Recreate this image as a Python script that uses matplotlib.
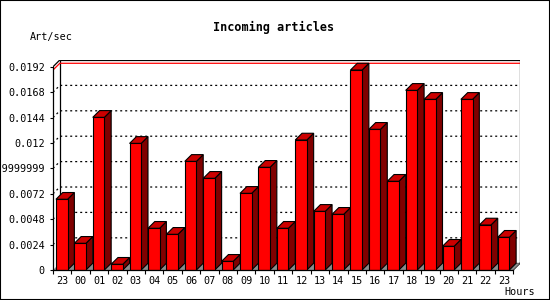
import numpy as np
import matplotlib
matplotlib.use("Agg")
import matplotlib.pyplot as plt
from matplotlib.patches import Polygon, Rectangle

plt.rcParams['font.family'] = ['DejaVu Sans Mono', 'DejaVu Sans']

# data
hours = ['23', '00', '01', '02', '03', '04', '05', '06', '07', '08', '09', '10', '11',
         '12', '13', '14', '15', '16', '17', '18', '19', '20', '21', '22', '23']
art_sec = [0.00668, 0.00252, 0.01442, 0.00054, 0.01196, 0.00394, 0.00337, 0.01026,
           0.00866, 0.00082, 0.00724, 0.00970, 0.00394, 0.01228, 0.00554, 0.00526,
           0.01889, 0.01329, 0.00838, 0.01697, 0.01612, 0.00224, 0.01612, 0.00425,
           0.00309]
y_ticks = [0, 0.0024, 0.0048, 0.0072, 0.0096, 0.012, 0.0144, 0.0168, 0.0192]
y_labels = ['0', '0.0024', '0.0048', '0.0072', '0.009599999999999999', '0.012',
            '0.0144', '0.0168', '0.0192']

# 3d depth (in data units) and bar placement inside a slot
dx = 0.37
dy = 0.00064
bar_off = 0.16
bar_w = 0.63

n = len(hours)
ymax = y_ticks[-1]

fig = plt.figure(figsize=(5.5, 3), dpi=100)
ax = fig.add_axes([53 / 550, 30 / 300, 467 / 550, 210 / 300])
ax.set_xlim(0, n + dx)
ax.set_ylim(0, ymax + dy)

# back wall
ax.add_patch(Rectangle((dx, dy), n, ymax, facecolor='white', edgecolor='black',
                       lw=0.9, zorder=1))
# left wall top edge + right floor edge
ax.plot([0, dx], [ymax, ymax + dy], color='black', lw=0.9, zorder=2)
ax.plot([n, n + dx], [0, dy], color='black', lw=0.9, zorder=2)

# grid lines (dotted, on the walls)
for v in y_ticks[1:-1]:
    ax.plot([0, dx, n + dx], [v, v + dy, v + dy], color='black', lw=0.9,
            linestyle=(0, (1.6, 2.4)), zorder=2)

# max line
m = max(art_sec)
ax.plot([0, dx, n + dx], [m, m + dy, m + dy], color='#ff0000', lw=0.9, zorder=2)

# floor
ax.add_patch(Polygon([(0, 0), (n, 0), (n + dx, dy), (dx, dy)], closed=True,
                     facecolor='#8c8c8c', edgecolor='none', zorder=2))

# bars
for i, v in enumerate(art_sec):
    x0 = i + bar_off
    x1 = x0 + bar_w
    ax.add_patch(Polygon([(x1, 0), (x1 + dx, dy), (x1 + dx, v + dy), (x1, v)],
                         closed=True, facecolor='#800000', edgecolor='black',
                         lw=0.8, zorder=3 + i))
    ax.add_patch(Polygon([(x0, v), (x0 + dx, v + dy), (x1 + dx, v + dy), (x1, v)],
                         closed=True, facecolor='#cc0000', edgecolor='black',
                         lw=0.8, zorder=3 + i))
    ax.add_patch(Rectangle((x0, 0), bar_w, v, facecolor='#ff0000',
                           edgecolor='black', lw=0.8, zorder=3 + i))

# axes
for s in ['top', 'right']:
    ax.spines[s].set_visible(False)
ax.spines['left'].set_bounds(0, ymax)
ax.spines['bottom'].set_bounds(0, n)
ax.spines['left'].set_linewidth(0.9)
ax.spines['bottom'].set_linewidth(0.9)
ax.spines['left'].set_zorder(50)
ax.spines['bottom'].set_zorder(50)

ax.set_yticks(y_ticks)
ax.set_yticklabels(y_labels)
ax.tick_params(axis='y', length=2.5, width=0.8, pad=3.5, labelsize=7.3)

ax.set_xticks(np.arange(n + 1))
ax.set_xticklabels([])
ax.set_xticks(np.arange(n) + 0.5, minor=True)
ax.set_xticklabels(hours, minor=True)
ax.tick_params(axis='x', which='major', length=3, width=0.8)
ax.tick_params(axis='x', which='minor', length=0, pad=4.5, labelsize=7.3)

fig.text(274 / 550, 1 - 27 / 300, 'Incoming articles', ha='center', va='center',
         fontsize=8.5, fontweight='bold')
fig.text(30 / 550, 1 - 37 / 300, 'Art/sec', ha='left', va='center', fontsize=7.3)
fig.text(535 / 550, 1 - 292 / 300, 'Hours', ha='right', va='center', fontsize=7.3)

fig.patches.append(Rectangle((0, 0), 1, 1, transform=fig.transFigure, fill=False,
                             edgecolor='black', lw=1.5))

fig.savefig('out.png', dpi=100)
